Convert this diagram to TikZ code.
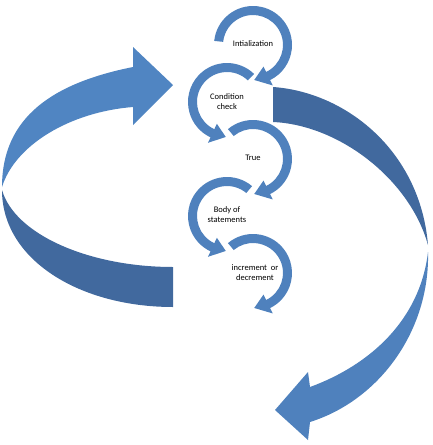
\documentclass[tikz,border=0pt]{standalone}
\usepackage{fontspec}
\setmainfont{Carlito}
\definecolor{ringblue}{HTML}{4F81BD}
\definecolor{lightblue}{HTML}{5085C2}
\definecolor{darkblue}{HTML}{41699E}
\newcommand\ringarrow[4]{%
  \begin{scope}[shift={(#1)}]
    \fill[ringblue] (#2:39) arc[start angle=#2, end angle=#3, radius=39]
      -- (#3:45) -- (#4:35) -- (#3:24) -- (#3:30)
      arc[start angle=#3, end angle=#2, radius=30] -- cycle;
  \end{scope}}
\tikzset{lbl/.style={font=\fontsize{8.5}{10}\selectfont, align=center, text=black, inner sep=0pt}}
\begin{document}
\begin{tikzpicture}[x=1pt,y=-1pt]
\useasboundingbox (0,0) rectangle (432,445);
% big left arrow
\fill[lightblue] (133,67) .. controls (53,83) and (2,117) .. (2,187)
  .. controls (15,145) and (70,112) .. (133,107) -- (133,125) -- (173,85) -- (133,47) -- cycle;
\fill[darkblue] (2,190) .. controls (2,260) and (80,307) .. (173,307)
  -- (173,267) .. controls (90,267) and (15,235) .. (2,190) -- cycle;
% big right arrow
\fill[darkblue] (273,87) .. controls (345,92) and (420,150) .. (428,245)
  .. controls (410,180) and (340,125) .. (273,122) -- cycle;
\fill[ringblue] (428,252) .. controls (430,330) and (380,400) .. (310,422)
  -- (308,440) -- (275,410) -- (308,372) -- (310,387)
  .. controls (370,365) and (420,320) .. (428,252) -- cycle;
% ring centres
\coordinate (c1) at (253,45);
\coordinate (c2) at (227,102);
\coordinate (c3) at (253,159);
\coordinate (c4) at (227,216);
\coordinate (c5) at (253,273);
\ringarrow{c1}{186}{424}{448}
\ringarrow{c2}{-46}{-245}{-268}
\ringarrow{c3}{230}{424}{448}
\ringarrow{c4}{-50}{-245}{-268}
\ringarrow{c5}{230}{424}{448}
\node[lbl] (t1) at (253,44) {Intialization};
\node[lbl] (t2) at (227,102) {Condition\\check};
\node[lbl] (t3) at (253,158) {True};
\node[lbl] (t4) at (227,215) {Body of\\statements};
\node[lbl] (t5) at (255,273) {increment\ \ or\\decrement};
\end{tikzpicture}
\end{document}
